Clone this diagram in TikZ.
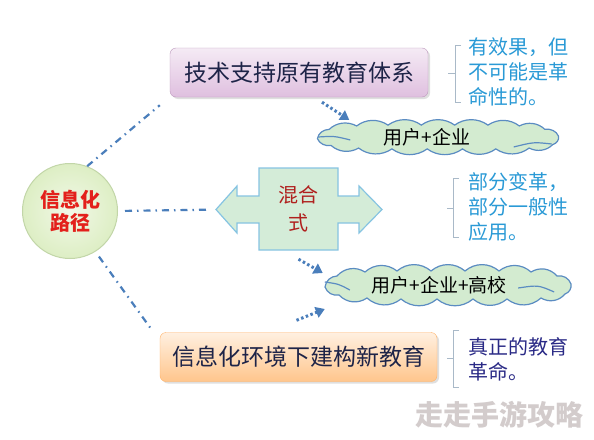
\documentclass[tikz,border=0pt]{standalone}
\usepackage{fontspec}
\setmainfont{Noto Sans CJK SC}
\usetikzlibrary{calc,arrows.meta,shadows}
\definecolor{linkblue}{HTML}{4A7EBB}
\definecolor{noteblue}{HTML}{2A9AD6}
\definecolor{notenavy}{HTML}{2A2A86}
\definecolor{boxtext}{HTML}{1E2448}
\definecolor{rootred}{HTML}{E3201B}
\definecolor{mixred}{HTML}{B0201E}
\definecolor{rootfill}{HTML}{DDEEC4}
\definecolor{rootline}{HTML}{C2D6A8}
\definecolor{mixfill}{HTML}{D4ECD8}
\definecolor{mixline}{HTML}{86C4E2}
\definecolor{cloudfill}{HTML}{D3EBD0}
\definecolor{cloudline}{HTML}{5B8CC2}
\definecolor{bracegray}{HTML}{A9B9C8}
\definecolor{markgray}{HTML}{D3CCCC}

\begin{document}
\begin{tikzpicture}[x=1pt,y=-1pt]
\tikzstyle{link}=[linkblue,line width=2.2pt,dash pattern=on 7pt off 5pt on 1.5pt off 5pt]
\tikzstyle{hint}=[linkblue,line width=3pt,dash pattern=on 2.5pt off 2.5pt,-{Triangle[length=9pt,width=11pt]}]
\tikzstyle{plan}=[draw,rounded corners=6pt,minimum height=49pt,font=\fontsize{23}{23}\selectfont,text=boxtext,drop shadow={opacity=0.25,shadow xshift=2pt,shadow yshift=-2pt}]
\tikzstyle{puffy}=[draw=cloudline,fill=cloudfill,line width=1.2pt,bend left=40]
\tikzstyle{swirl}=[cloudline,line width=1.2pt]
\tikzstyle{group}=[minimum width=245pt,minimum height=30pt,font=\fontsize{19}{19}\selectfont]
\tikzstyle{note}=[align=left,anchor=north west,inner sep=0pt,font=\fontsize{20}{25}\selectfont]
\tikzstyle{brace}=[bracegray,line width=0.8pt]

\useasboundingbox [fill=white] (0,0) rectangle (594,439);

\node (root) [circle,draw=rootline,inner color=rootfill!40,outer color=rootfill,line width=1pt,minimum size=95pt,align=center,font=\fontsize{20}{23}\selectfont\bfseries,text=rootred] at (70,211) {信息化\\路径};

\node (top) [plan,draw=black!30!violet!40,top color=violet!8,bottom color=violet!25,minimum width=258pt] at (299,72.5) {技术支持原有教育体系};
\node (bottom) [plan,draw=orange!60,top color=orange!12,bottom color=orange!45,minimum width=277pt] at (298.5,357) {信息化环境下建构新教育};

\draw [draw=mixline,fill=mixfill,line width=1.2pt] (259,168) -- (338,168) -- (338,196) -- (359,196) -- (359,186) -- (382,209.5) -- (359,233) -- (359,223) -- (338,223) -- (338,250) -- (259,250) -- (259,223) -- (237,223) -- (237,233) -- (216,209.5) -- (237,186) -- (237,196) -- (259,196) -- cycle;
\node (mix) [minimum width=79pt,minimum height=82pt,align=center,font=\fontsize{20}{28}\selectfont,text=mixred] at (298.5,209) {混合\\式};

\foreach \at/\sx/\sy in {{(437,137)}/0.98/0.85,{(447,285)}/1/1}
  \draw [puffy,shift={\at},xscale=\sx,yscale=\sy] (-122,2) to (-110,-9) to (-82,-13) to (-50,-14) to (-16,-14) to (18,-14) to (52,-14) to (84,-13) to (110,-9) to (124,-1) to (118,9) to (94,13) to (60,14) to (26,14) to (-10,14) to (-46,14) to (-80,13) to (-108,10) to (-122,2) -- cycle;

\node (cloudA) [group] at (437,137) {\hspace*{-20pt}用户+企业};
\node (cloudB) [group,minimum width=250pt,minimum height=33pt] at (447,285) {\hspace*{-16pt}用户+企业+高校};
\draw [swirl] ($(cloudA.west)+(4,0)$) .. controls ($(cloudA.west)+(20,-1)$) .. ($(cloudA.west)+(36,3)$);
\draw [swirl] ($(cloudA.east)+(-46,10)$) .. controls ($(cloudA.east)+(-26,5)$) .. ($(cloudA.east)+(-8,7)$);
\draw [swirl] ($(cloudB.west)+(3,-3)$) .. controls ($(cloudB.west)+(17,-1)$) .. ($(cloudB.west)+(28,5)$);
\draw [swirl] ($(cloudB.east)+(-54,3)$) .. controls ($(cloudB.east)+(-34,0)$) .. ($(cloudB.east)+(-18,7)$);

\node (noteA) [note,text=noteblue] at (468,37) {有效果，但\\不可能是革\\命性的。};
\node (noteB) [note,text=noteblue] at (468,172) {部分变革，\\部分一般性\\应用。};
\node (noteC) [note,text=notenavy] at (468,337) {真正的教育\\革命。};

\draw [brace] (461,45) -- (455,45) -- (455,102) -- (461,102) (455,73) -- (448,73);
\draw [brace] (459,178) -- (453,178) -- (453,237) -- (459,237) (453,208) -- (447,208);
\draw [brace] (459,330) -- (453,330) -- (453,387) -- (459,387) (453,358) -- (447,358);

\draw [link] (root.69) -- ($(top.south west)+(-10,8)$);
\draw [link,shorten <=7pt,shorten >=49pt] (root.east) -- (mix.west);
\draw [link,shorten <=6pt] (root.-58) -- ($(bottom.north west)+(-7,-1)$);

\draw [hint] ($(top.south)+(23,5)$) -- ($(cloudA.west)+(35,-17)$);
\draw [hint] ($(mix.south)+(0,9)$) -- ($(cloudB.west)+(1,-12)$);
\draw [hint] ($(bottom.north)+(-2,-12)$) -- ($(cloudB.west)+(3,24)$);

\node (mark) [font=\fontsize{28}{28}\selectfont\bfseries,text=markgray] at (499,415) {走走手游攻略};
\end{tikzpicture}
\end{document}
